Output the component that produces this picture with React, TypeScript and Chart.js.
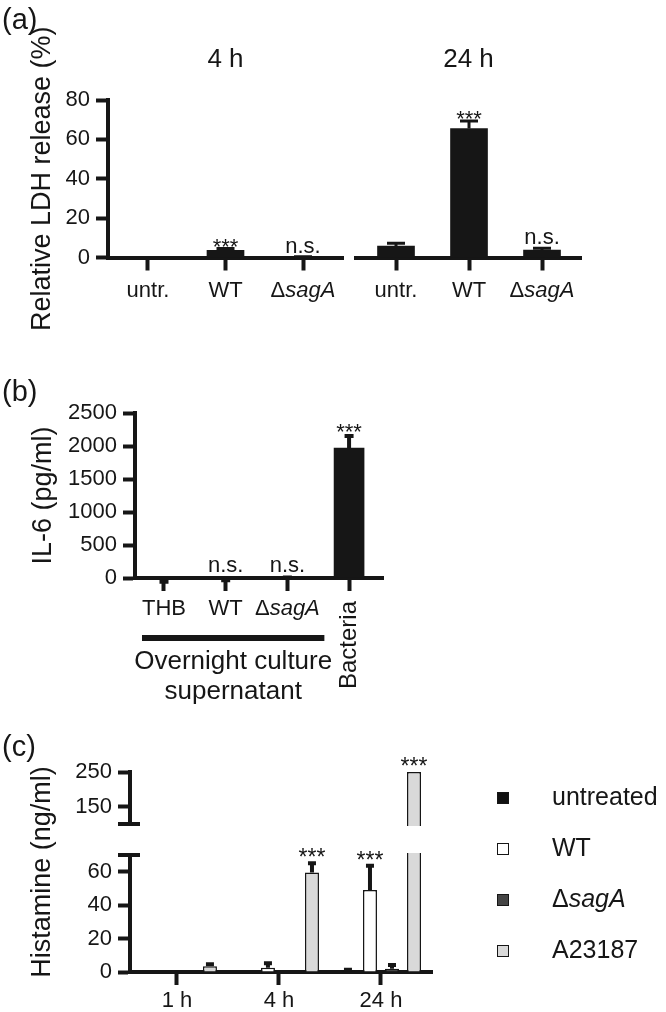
import React, { useEffect, useRef } from 'react';
import { Chart, registerables, LinearScale } from 'chart.js';

Chart.register(...registerables);

// ---------------- data ----------------
const ldhCategories = ['untr.', 'WT', 'ΔsagA'];
const ldhTicks = [0, 20, 40, 60, 80];
const ldhAxisTitle = 'Relative LDH release (%)';
const ldhTime4h = '4 h';
const ldh4hValues = [0, 3.6, 0.2];
const ldh4hErrors = [0, 1.0, 0.2];
const ldh4hMarks = ['', '***', 'n.s.'];
const ldhTime24h = '24 h';
const ldh24hValues = [5.8, 65.5, 3.8];
const ldh24hErrors = [1.4, 3.8, 0.9];
const ldh24hMarks = ['', '***', 'n.s.'];

const il6Categories = ['THB', 'WT', 'ΔsagA', 'Bacteria'];
const il6Ticks = [0, 500, 1000, 1500, 2000, 2500];
const il6AxisTitle = 'IL-6 (pg/ml)';
const il6Values = [-40, -15, 3, 1970];
const il6Errors = [15, 20, 3, 180];
const il6Marks = ['', 'n.s.', 'n.s.', '***'];
const il6GroupLabel = ['Overnight culture', 'supernatant'];

const histTimes = ['1 h', '4 h', '24 h'];
const histTicks = [0, 20, 40, 60, 150, 250];
const histAxisTitle = 'Histamine (ng/ml)';
const histSeries = ['untreated', 'WT', 'ΔsagA', 'A23187'];
const histUntreated = [0, 0, 0.8];
const histUntreatedErr = [0, 0, 0.6];
const histUntreatedMarks = ['', '', ''];
const histWT = [0, 2.5, 49];
const histWTErr = [0, 2.8, 14.5];
const histWTMarks = ['', '', '***'];
const histSagA = [0, 0, 2];
const histSagAErr = [0, 0, 2.2];
const histSagAMarks = ['', '', ''];
const histA23187 = [3.5, 59.5, 250];
const histA23187Err = [1.2, 5.5, 0];
const histA23187Marks = ['', '***', '***'];

// ---------------- styles ----------------
const FONT = "'Liberation Sans', Arial, Helvetica, sans-serif";
const INK = '#161616';
Chart.defaults.font.family = FONT;
Chart.defaults.color = INK;

const axisBorder = { width: 4, color: INK };
const yGrid = { drawOnChartArea: false, tickLength: 12, tickWidth: 4, tickColor: INK, offset: false };
const xGrid = { drawOnChartArea: false, tickLength: 13, tickWidth: 4, tickColor: INK, offset: false };
const tickFont = { size: 22 };
const axisTitleFont = { size: 27 };

// ---------------- broken y scale ----------------
const BREAK_LOW = 70;
const BREAK_HIGH = 100;
const LOW_FRAC = 0.585;
const HIGH_FRAC = 0.74;

class BrokenLinearScale extends (LinearScale as any) {
  static id = 'brokenLinear';
  static defaults = {};
  valueToDecimal(v: number) {
    const min = this.min;
    const max = this.max;
    if (v <= BREAK_LOW) return ((v - min) / (BREAK_LOW - min)) * LOW_FRAC;
    if (v >= BREAK_HIGH) return HIGH_FRAC + ((v - BREAK_HIGH) / (max - BREAK_HIGH)) * (1 - HIGH_FRAC);
    return LOW_FRAC + ((v - BREAK_LOW) / (BREAK_HIGH - BREAK_LOW)) * (HIGH_FRAC - LOW_FRAC);
  }
  getPixelForValue(value: any) {
    if (value === null || value === undefined || Number.isNaN(+value)) return NaN;
    return this.getPixelForDecimal(this.valueToDecimal(+value));
  }
  getValueForPixel(pixel: number) {
    const d = this.getDecimalForPixel(pixel);
    if (d <= LOW_FRAC) return this.min + (d / LOW_FRAC) * (BREAK_LOW - this.min);
    if (d >= HIGH_FRAC) return BREAK_HIGH + ((d - HIGH_FRAC) / (1 - HIGH_FRAC)) * (this.max - BREAK_HIGH);
    return BREAK_LOW + ((d - LOW_FRAC) / (HIGH_FRAC - LOW_FRAC)) * (BREAK_HIGH - BREAK_LOW);
  }
}
Chart.register(BrokenLinearScale as any);

// ---------------- text helpers ----------------
function richParts(label: string) {
  if (label.startsWith('Δ')) return [{ text: 'Δ', italic: false }, { text: label.slice(1), italic: true }];
  return [{ text: label, italic: false }];
}

function drawRich(ctx: CanvasRenderingContext2D, label: string, x: number, y: number, size: number, align: string) {
  const parts = richParts(label);
  const fontOf = (it: boolean) => `${it ? 'italic ' : ''}${size}px ${FONT}`;
  let total = 0;
  const widths = parts.map((p) => {
    ctx.font = fontOf(p.italic);
    const w = ctx.measureText(p.text).width;
    total += w;
    return w;
  });
  let cx = align === 'center' ? x - total / 2 : align === 'right' ? x - total : x;
  ctx.textAlign = 'left';
  parts.forEach((p, i) => {
    ctx.font = fontOf(p.italic);
    ctx.fillText(p.text, cx, y);
    cx += widths[i];
  });
}

// ---------------- plugins ----------------
const axisBreak = {
  id: 'axisBreak',
  afterDatasetsDraw(chart: any, _a: any, o: any) {
    const ctx = chart.ctx;
    const area = chart.chartArea;
    const ys = chart.scales.y;
    const yHi = ys.getPixelForValue(o.high);
    const yLo = ys.getPixelForValue(o.low);
    const ax = area.left;
    ctx.save();
    ctx.fillStyle = '#ffffff';
    ctx.fillRect(ax - 16, yHi + 2, area.right - ax + 20, yLo - yHi - 4);
    ctx.fillStyle = INK;
    ctx.fillRect(ax - 12, yHi - 2, 22, 4);
    ctx.fillRect(ax - 12, yLo - 2, 22, 4);
    ctx.restore();
  },
};

const annotateBars = {
  id: 'annotateBars',
  afterDatasetsDraw(chart: any, _a: any, o: any) {
    const ctx = chart.ctx;
    const ys = chart.scales.y;
    const zero = ys.getPixelForValue(0);
    chart.data.datasets.forEach((ds: any, di: number) => {
      const meta = chart.getDatasetMeta(di);
      meta.data.forEach((bar: any, i: number) => {
        const v = ds.data[i].y;
        const e = ds.errors ? ds.errors[i] : 0;
        const dir = v < 0 ? -1 : 1;
        const pv = ys.getPixelForValue(v);
        const pe = ys.getPixelForValue(v + dir * e);
        if (e > 0) {
          ctx.save();
          ctx.strokeStyle = INK;
          ctx.lineWidth = o.lineWidth;
          ctx.beginPath();
          ctx.moveTo(bar.x, pv);
          ctx.lineTo(bar.x, pe);
          ctx.moveTo(bar.x - o.cap / 2, pe);
          ctx.lineTo(bar.x + o.cap / 2, pe);
          ctx.stroke();
          ctx.restore();
        }
        const mark = ds.marks ? ds.marks[i] : '';
        if (mark) {
          const top = Math.min(pv, pe, zero);
          ctx.save();
          ctx.fillStyle = INK;
          ctx.textAlign = 'center';
          ctx.textBaseline = 'alphabetic';
          if (mark === 'n.s.') {
            ctx.font = `${o.nsSize}px ${FONT}`;
            ctx.fillText(mark, bar.x, top - o.nsGap);
          } else {
            ctx.font = `${o.starSize}px ${FONT}`;
            ctx.fillText(mark, bar.x, top - o.starGap + 0.42 * o.starSize);
          }
          ctx.restore();
        }
      });
    });
  },
};

const richTicks = {
  id: 'richTicks',
  afterDraw(chart: any, _a: any, o: any) {
    const ctx = chart.ctx;
    const xs = chart.scales.x;
    const bottom = chart.chartArea.bottom;
    const rotated: number[] = o.rotated || [];
    (o.labels as string[]).forEach((label: string, i: number) => {
      const x = xs.getPixelForValue(i);
      ctx.save();
      ctx.fillStyle = INK;
      if (rotated.includes(i)) {
        ctx.translate(x, bottom + o.rotatedOffset);
        ctx.rotate(-Math.PI / 2);
        ctx.textBaseline = 'middle';
        drawRich(ctx, label, 0, 0, o.rotatedSize, 'right');
      } else {
        ctx.textBaseline = 'alphabetic';
        drawRich(ctx, label, x, bottom + o.offset, o.size, 'center');
      }
      ctx.restore();
    });
  },
};

const panelText = {
  id: 'panelText',
  afterDraw(chart: any, _a: any, o: any) {
    const ctx = chart.ctx;
    (o.items || []).forEach((it: any) => {
      ctx.save();
      ctx.fillStyle = INK;
      ctx.font = `${it.size}px ${FONT}`;
      ctx.textAlign = 'left';
      ctx.textBaseline = 'alphabetic';
      ctx.fillText(it.text, it.x, it.y);
      ctx.restore();
    });
  },
};

const groupBracket = {
  id: 'groupBracket',
  afterDraw(chart: any, _a: any, o: any) {
    const ctx = chart.ctx;
    const xs = chart.scales.x;
    const b = chart.chartArea.bottom;
    const x0 = xs.getPixelForValue(o.from) - o.padLeft;
    const x1 = xs.getPixelForValue(o.to) + o.padRight;
    ctx.save();
    ctx.fillStyle = INK;
    ctx.fillRect(x0, b + o.lineOffset - o.lineWidth / 2, x1 - x0, o.lineWidth);
    ctx.font = `${o.size}px ${FONT}`;
    ctx.textAlign = 'center';
    ctx.textBaseline = 'alphabetic';
    (o.lines as string[]).forEach((t: string, k: number) => {
      ctx.fillText(t, (x0 + x1) / 2, b + o.textOffset + k * o.lineGap);
    });
    ctx.restore();
  },
};

const sideLegend = {
  id: 'sideLegend',
  afterDraw(chart: any, _a: any, o: any) {
    const ctx = chart.ctx;
    chart.data.datasets.forEach((ds: any, i: number) => {
      const cy = o.top + i * o.step;
      ctx.save();
      ctx.fillStyle = ds.backgroundColor;
      ctx.fillRect(o.boxX, cy - o.box / 2, o.box, o.box);
      ctx.strokeStyle = INK;
      ctx.lineWidth = 1;
      ctx.strokeRect(o.boxX + 0.5, cy - o.box / 2 + 0.5, o.box - 1, o.box - 1);
      ctx.fillStyle = INK;
      ctx.textBaseline = 'middle';
      drawRich(ctx, ds.label, o.textX, cy, o.size, 'left');
      ctx.restore();
    });
  },
};

// ---------------- chart configs ----------------
function makeLdhConfig(p: any): any {
  const yScale: any = {
    display: p.showY,
    min: 0,
    max: 80,
    afterBuildTicks: (s: any) => {
      s.ticks = ldhTicks.map((value) => ({ value }));
    },
    ticks: { font: tickFont, color: INK, padding: 6, callback: (v: any) => String(v) },
    grid: yGrid,
    border: axisBorder,
    title: { display: true, text: ldhAxisTitle, font: axisTitleFont, color: INK, padding: { top: 26, bottom: 0 } },
  };
  if (p.showY) yScale.afterFit = (s: any) => { s.width = 108; };
  return {
    type: 'bar',
    data: {
      datasets: [
        {
          label: p.time,
          data: p.values.map((y: number, x: number) => ({ x, y })),
          errors: p.errors,
          marks: p.marks,
          backgroundColor: INK,
          borderWidth: 0,
          barThickness: 37,
        },
      ],
    },
    options: {
      responsive: false,
      animation: false,
      events: [],
      layout: { padding: { left: p.padLeft, right: p.padRight, top: 0, bottom: 0 } },
      plugins: {
        legend: { display: false },
        tooltip: { enabled: false },
        title: {
          display: true,
          text: p.time,
          fullSize: false,
          color: INK,
          font: { size: 26, weight: 'normal' },
          padding: { top: 44, bottom: 24.8 },
        },
        annotateBars: { lineWidth: 3, cap: 18, starSize: 22, starGap: 4, nsSize: 22, nsGap: 4 },
        richTicks: { labels: ldhCategories, size: 22, offset: 39.5 },
        panelText: { items: p.letter ? [{ text: p.letter, x: 2, y: 29, size: 29 }] : [] },
      },
      scales: {
        x: {
          type: 'linear',
          min: p.xMin,
          max: p.xMax,
          offset: false,
          afterBuildTicks: (s: any) => {
            s.ticks = ldhCategories.map((_, i) => ({ value: i }));
          },
          afterFit: (s: any) => { s.height = 82.5; },
          ticks: { display: false },
          grid: xGrid,
          border: axisBorder,
        },
        y: yScale,
      },
    },
    plugins: [annotateBars, richTicks, panelText],
  };
}

const buildLdh4h = () =>
  makeLdhConfig({
    time: ldhTime4h, values: ldh4hValues, errors: ldh4hErrors, marks: ldh4hMarks,
    showY: true, xMin: -0.516, xMax: 2.516, padLeft: 0, padRight: 5, letter: '(a)',
  });

const buildLdh24h = () =>
  makeLdhConfig({
    time: ldhTime24h, values: ldh24hValues, errors: ldh24hErrors, marks: ldh24hMarks,
    showY: false, xMin: -0.548, xMax: 2.534, padLeft: 8, padRight: 12, letter: '',
  });

const buildIl6 = (): any => ({
  type: 'bar',
  data: {
    datasets: [
      {
        label: il6AxisTitle,
        data: il6Values.map((y, x) => ({ x, y })),
        errors: il6Errors,
        marks: il6Marks,
        backgroundColor: INK,
        borderWidth: 0,
        barThickness: 30,
      },
    ],
  },
  options: {
    responsive: false,
    animation: false,
    events: [],
    layout: { padding: { left: 0, right: 17, top: 53, bottom: 0 } },
    plugins: {
      legend: { display: false },
      tooltip: { enabled: false },
      annotateBars: { lineWidth: 4, cap: 9, starSize: 22, starGap: 6, nsSize: 22, nsGap: 6 },
      richTicks: { labels: il6Categories, size: 22, offset: 37, rotated: [3], rotatedOffset: 23, rotatedSize: 24 },
      groupBracket: {
        from: 0, to: 2, padLeft: 22, padRight: 37, lineOffset: 60, lineWidth: 6,
        lines: il6GroupLabel, size: 26, textOffset: 91, lineGap: 30,
      },
      panelText: { items: [{ text: '(b)', x: 2, y: 41, size: 29 }] },
    },
    scales: {
      x: {
        type: 'linear',
        min: -0.47,
        max: 3.55,
        offset: false,
        afterBuildTicks: (s: any) => {
          s.ticks = il6Categories.map((_, i) => ({ value: i }));
        },
        afterFit: (s: any) => { s.height = 132; },
        ticks: { display: false },
        grid: xGrid,
        border: axisBorder,
      },
      y: {
        min: 0,
        max: 2500,
        afterBuildTicks: (s: any) => {
          s.ticks = il6Ticks.map((value) => ({ value }));
        },
        afterFit: (s: any) => { s.width = 135; },
        ticks: { font: tickFont, color: INK, padding: 6, callback: (v: any) => String(v) },
        grid: yGrid,
        border: axisBorder,
        title: { display: true, text: il6AxisTitle, font: axisTitleFont, color: INK, padding: { top: 27, bottom: 0 } },
      },
    },
  },
  plugins: [annotateBars, richTicks, groupBracket, panelText],
});

const histData = [
  { values: histUntreated, errors: histUntreatedErr, marks: histUntreatedMarks, fill: '#111111' },
  { values: histWT, errors: histWTErr, marks: histWTMarks, fill: '#ffffff' },
  { values: histSagA, errors: histSagAErr, marks: histSagAMarks, fill: '#454545' },
  { values: histA23187, errors: histA23187Err, marks: histA23187Marks, fill: '#d9d9d9' },
];

const buildHist = (): any => ({
  type: 'bar',
  data: {
    datasets: histData.map((s, k) => ({
      label: histSeries[k],
      data: s.values.map((y, x) => ({ x, y })),
      errors: s.errors,
      marks: s.marks,
      backgroundColor: s.fill,
      borderColor: INK,
      borderWidth: 1.5,
      categoryPercentage: 0.863,
      barPercentage: 0.636,
    })),
  },
  options: {
    responsive: false,
    animation: false,
    events: [],
    layout: { padding: { left: 0, right: 234, top: 42, bottom: 0 } },
    plugins: {
      legend: { display: false },
      tooltip: { enabled: false },
      axisBreak: { low: BREAK_LOW, high: BREAK_HIGH },
      annotateBars: { lineWidth: 4, cap: 8, starSize: 23, starGap: 8, nsSize: 22, nsGap: 6 },
      sideLegend: { top: 68, step: 51, boxX: 497, box: 12, textX: 552, size: 25 },
      panelText: { items: [{ text: '(c)', x: 2, y: 26, size: 29 }] },
    },
    scales: {
      x: {
        type: 'linear',
        min: -0.46,
        max: 2.5,
        offset: false,
        afterBuildTicks: (s: any) => {
          s.ticks = histTimes.map((_, i) => ({ value: i }));
        },
        afterFit: (s: any) => { s.height = 40; },
        ticks: { font: tickFont, color: INK, padding: 3, maxRotation: 0, callback: (v: any) => histTimes[v] ?? '' },
        grid: xGrid,
        border: axisBorder,
      },
      y: {
        type: 'brokenLinear',
        min: 0,
        max: 250,
        afterBuildTicks: (s: any) => {
          s.ticks = histTicks.map((value) => ({ value }));
        },
        afterFit: (s: any) => { s.width = 130; },
        ticks: { font: tickFont, color: INK, padding: 6, callback: (v: any) => String(v) },
        grid: yGrid,
        border: axisBorder,
        title: { display: true, text: histAxisTitle, font: axisTitleFont, color: INK, padding: { top: 26, bottom: 0 } },
      },
    },
  },
  plugins: [axisBreak, annotateBars, sideLegend, panelText],
});

// ---------------- components ----------------
function ChartBox({ left, top, width, height, build }: any) {
  const ref = useRef<HTMLCanvasElement | null>(null);
  useEffect(() => {
    if (!ref.current) return undefined;
    const chart = new Chart(ref.current, build());
    return () => chart.destroy();
  }, [build]);
  return (
    <div style={{ position: 'absolute', left, top, width, height }}>
      <canvas ref={ref} width={width} height={height} style={{ display: 'block', width, height }} />
    </div>
  );
}

export default function App() {
  return (
    <div
      style={{
        position: 'absolute',
        left: 0,
        top: 0,
        width: 666,
        height: 1012,
        background: '#ffffff',
        overflow: 'hidden',
        fontFamily: FONT,
      }}
    >
      <ChartBox left={0} top={0} width={348} height={340} build={buildLdh4h} />
      <ChartBox left={348} top={0} width={245} height={340} build={buildLdh24h} />
      <ChartBox left={0} top={360} width={400} height={350} build={buildIl6} />
      <ChartBox left={0} top={730} width={666} height={282} build={buildHist} />
    </div>
  );
}
